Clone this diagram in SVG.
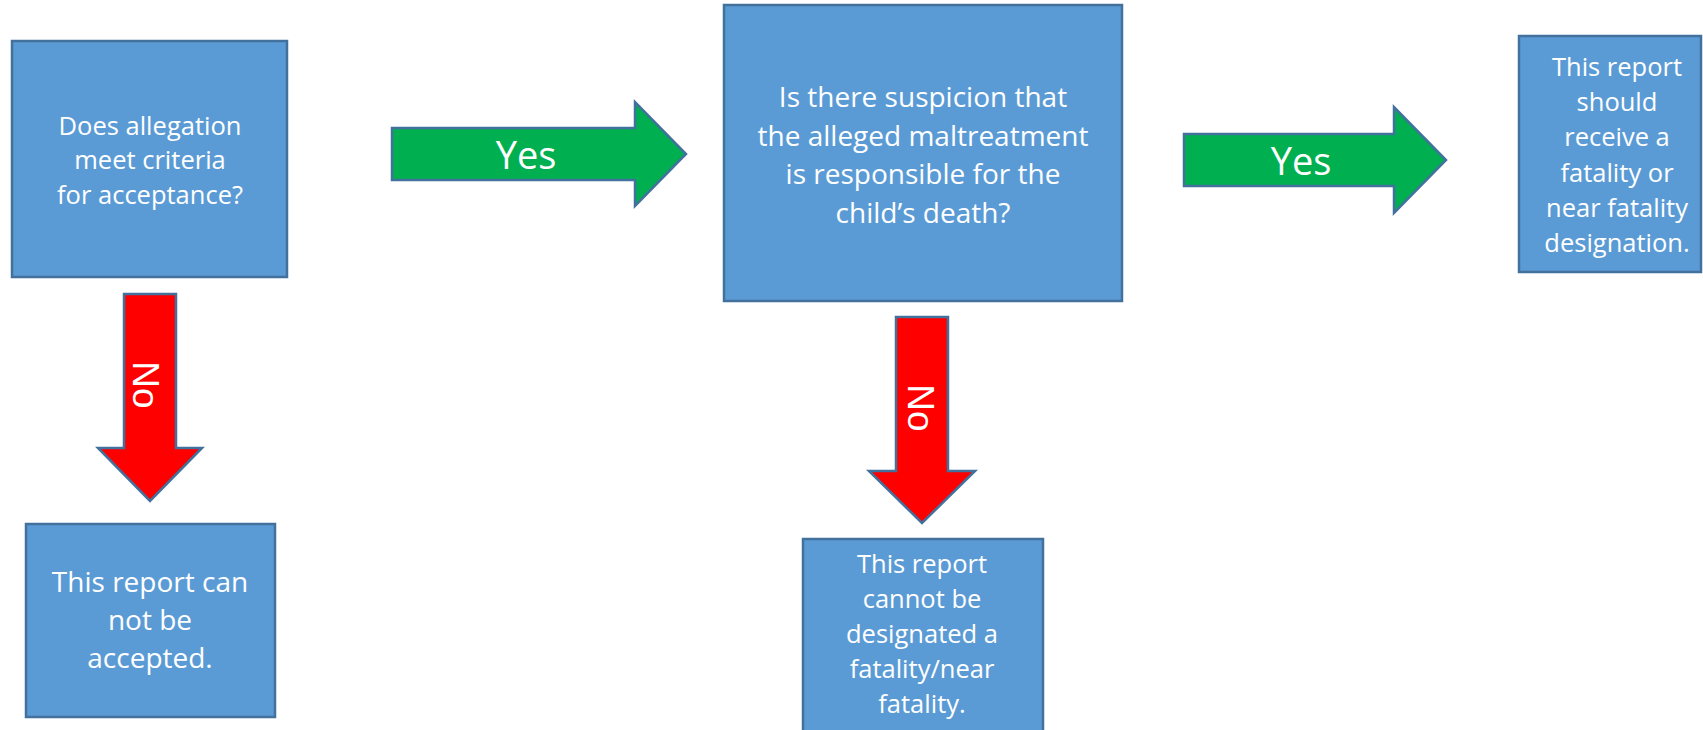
<svg xmlns="http://www.w3.org/2000/svg" width="1703" height="730" viewBox="0 0 1703 730">
<style>
.box{fill:#5B9BD5;stroke:#41719C;stroke-width:2.5}
.yes{fill:#00B050;stroke:#41719C;stroke-width:2.5;stroke-linejoin:miter}
.no{fill:#FF0000;stroke:#41719C;stroke-width:2.5;stroke-linejoin:miter}
.t{font-family:"Open Sans","Liberation Sans",sans-serif;fill:#FFFFFF;text-anchor:middle}
.s25{font-size:25.5px}
.s27{font-size:28px}
.lab{font-family:"Open Sans","Liberation Sans",sans-serif;fill:#FFFFFF;text-anchor:middle;font-size:38px}
.nol{font-family:"Liberation Sans",Arial,sans-serif;fill:#FFFFFF;text-anchor:middle;font-size:37px}
</style>
<rect width="1703" height="730" fill="#FFFFFF"/>
<g id="connectors">
<g id="yes1">
<path class="yes" d="M392,128 L635,128 L635,102 L686,154 L635,206 L635,180 L392,180 Z"/>
<text class="lab" x="526" y="169">Yes</text>
</g>
<g id="yes2">
<path class="yes" d="M1184,134 L1394,134 L1394,107 L1446,160 L1394,213 L1394,186 L1184,186 Z"/>
<text class="lab" x="1301" y="175">Yes</text>
</g>
<g id="no1">
<path class="no" d="M124,294 L176,294 L176,448 L202,448 L150,501 L98,448 L124,448 Z"/>
<text class="nol" transform="translate(146,385) rotate(90)" x="0" y="13">No</text>
</g>
<g id="no2">
<path class="no" d="M896,317 L948,317 L948,471 L975,471 L922,523 L869,471 L896,471 Z"/>
<text class="nol" transform="translate(921,408) rotate(90)" x="0" y="13">No</text>
</g>
</g>
<g id="node-criteria">
<rect class="box" x="12" y="41" width="275" height="236"/>
<text class="t s25" x="150" y="135">Does allegation</text>
<text class="t s25" x="150" y="169">meet criteria</text>
<text class="t s25" x="150" y="204">for acceptance?</text>
</g>
<g id="node-suspicion">
<rect class="box" x="724" y="5" width="398" height="296"/>
<text class="t s27" x="923" y="107">Is there suspicion that</text>
<text class="t s27" x="923" y="146">the alleged maltreatment</text>
<text class="t s27" x="923" y="184">is responsible for the</text>
<text class="t s27" x="923" y="223">child’s death?</text>
</g>
<g id="node-designation">
<rect class="box" x="1519" y="36" width="182" height="236"/>
<text class="t s25" x="1617" y="76">This report</text>
<text class="t s25" x="1617" y="111">should</text>
<text class="t s25" x="1617" y="146">receive a</text>
<text class="t s25" x="1617" y="182">fatality or</text>
<text class="t s25" x="1617" y="217">near fatality</text>
<text class="t s25" x="1617" y="252">designation.</text>
</g>
<g id="node-not-accepted">
<rect class="box" x="26" y="524" width="249" height="193"/>
<text class="t s27" x="150" y="592">This report can</text>
<text class="t s27" x="150" y="630">not be</text>
<text class="t s27" x="150" y="668">accepted.</text>
</g>
<g id="node-not-designated">
<rect class="box" x="803" y="539" width="240" height="200"/>
<text class="t s25" x="922" y="573">This report</text>
<text class="t s25" x="922" y="608">cannot be</text>
<text class="t s25" x="922" y="643">designated a</text>
<text class="t s25" x="922" y="678">fatality/near</text>
<text class="t s25" x="922" y="713">fatality.</text>
</g>
</svg>
